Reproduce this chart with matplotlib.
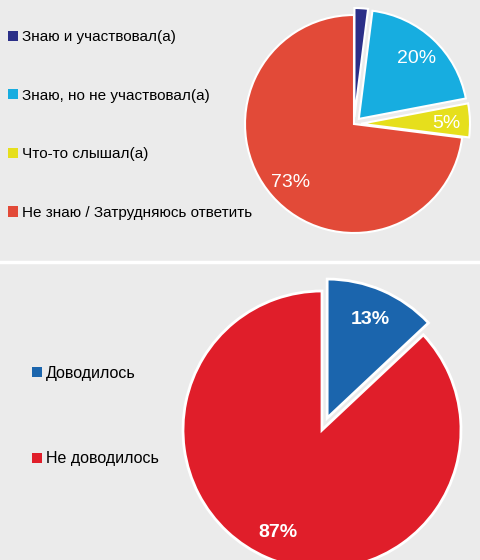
import matplotlib
matplotlib.use("Agg")
import matplotlib.pyplot as plt

# top chart: awareness
top_labels = ["Знаю и участвовал(а)", "Знаю, но не участвовал(а)",
              "Что-то слышал(а)", "Не знаю / Затрудняюсь ответить"]
top_values = [2, 20, 5, 73]
top_colors = ["#2b2f88", "#17ade0", "#e6df1c", "#e24a38"]

# bottom chart
bottom_labels = ["Доводилось", "Не доводилось"]
bottom_values = [13, 87]
bottom_colors = ["#1b65ad", "#e01e2a"]

BG = "#ebebeb"
W, H = 480, 560

plt.rcParams["font.family"] = ["Liberation Sans", "DejaVu Sans"]

fig = plt.figure(figsize=(W / 100, H / 100), dpi=100, facecolor=BG)
ax = fig.add_axes([0, 0, 1, 1])
ax.set_facecolor(BG)


def pct_fmt(p):
    return f"{p:.0f}%" if p >= 3 else ""


# explode is in data units here (pixels), since radius != 1
top_wedges, _, top_txt = ax.pie(
    top_values, colors=top_colors, startangle=90, counterclock=False,
    explode=[7, 7, 7, 0], radius=109, center=(354, H - 124),
    autopct=pct_fmt, pctdistance=0.78,
    wedgeprops=dict(edgecolor="white", linewidth=1.5),
    textprops=dict(color="white", fontsize=14, va="center_baseline"),
)

bot_wedges, _, bot_txt = ax.pie(
    bottom_values, colors=bottom_colors, startangle=90, counterclock=False,
    explode=[13, 0], radius=139, center=(322, H - 430),
    autopct=pct_fmt, pctdistance=0.79,
    wedgeprops=dict(edgecolor="white", linewidth=2),
    textprops=dict(color="white", fontsize=14, fontweight="bold",
                   va="center_baseline"),
)

ax.set_xlim(0, W)
ax.set_ylim(0, H)
ax.set_aspect("equal")
ax.axis("off")

# white divider between the two panels
ax.axhline(H - 262, color="white", linewidth=2.5)

leg1 = ax.legend(top_wedges, top_labels, loc="upper left",
                 bbox_to_anchor=(8 / W, 1 - 30 / H), frameon=False,
                 fontsize=11, labelspacing=2.92, handlelength=0.65,
                 handleheight=0.65, handletextpad=0.25, borderpad=0,
                 borderaxespad=0)
for h in leg1.legend_handles:
    h.set_edgecolor("none")
ax.add_artist(leg1)

leg2 = ax.legend(bot_wedges, bottom_labels, loc="upper left",
                 bbox_to_anchor=(32 / W, 1 - 366 / H), frameon=False,
                 fontsize=11.5, labelspacing=4.4, handlelength=0.6,
                 handleheight=0.6, handletextpad=0.25, borderpad=0,
                 borderaxespad=0)
for h in leg2.legend_handles:
    h.set_edgecolor("none")

fig.savefig("out.png", dpi=100, facecolor=BG)
